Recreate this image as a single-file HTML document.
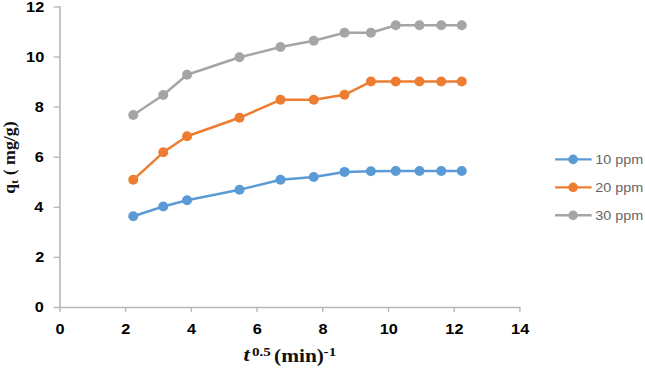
<!DOCTYPE html>
<html><head><meta charset="utf-8"><title>chart</title>
<style>
html,body{margin:0;padding:0;background:#fff;}
body{width:645px;height:368px;overflow:hidden;}
svg{display:block}
text{font-family:"Liberation Sans",sans-serif;}
.tk{font-weight:bold;font-size:14.5px;fill:#000;}
.lg{font-size:13px;fill:#666;}
.ser{font-family:"Liberation Serif",serif;font-weight:bold;fill:#111;}
</style></head><body>
<svg width="645" height="368" viewBox="0 0 645 368">
<rect width="645" height="368" fill="#fff"/>
<g stroke="#bfbfbf" fill="none">
<path d="M60 6.2V308.1" stroke-width="1.8"/>
<path d="M53.7 307.45H520.6" stroke-width="1.35" stroke="#b8b8b8"/>
<path d="M53.7 6.95H60" stroke-width="1.4" stroke="#b8b8b8"/>
<path d="M53.7 57.03H60" stroke-width="1.4" stroke="#b8b8b8"/>
<path d="M53.7 107.11H60" stroke-width="1.4" stroke="#b8b8b8"/>
<path d="M53.7 157.19H60" stroke-width="1.4" stroke="#b8b8b8"/>
<path d="M53.7 207.27H60" stroke-width="1.4" stroke="#b8b8b8"/>
<path d="M53.7 257.35H60" stroke-width="1.4" stroke="#b8b8b8"/>
<path d="M59.90 307.4V311.9" stroke-width="1.4" stroke="#b8b8b8"/>
<path d="M125.62 307.4V311.9" stroke-width="1.4" stroke="#b8b8b8"/>
<path d="M191.34 307.4V311.9" stroke-width="1.4" stroke="#b8b8b8"/>
<path d="M257.06 307.4V311.9" stroke-width="1.4" stroke="#b8b8b8"/>
<path d="M322.78 307.4V311.9" stroke-width="1.4" stroke="#b8b8b8"/>
<path d="M388.50 307.4V311.9" stroke-width="1.4" stroke="#b8b8b8"/>
<path d="M454.22 307.4V311.9" stroke-width="1.4" stroke="#b8b8b8"/>
<path d="M519.94 307.4V311.9" stroke-width="1.4" stroke="#b8b8b8"/>
</g>
<text class="tk" text-anchor="end" transform="translate(44.20 11.80) scale(1.125 1)">12</text>
<text class="tk" text-anchor="end" transform="translate(44.20 61.88) scale(1.125 1)">10</text>
<text class="tk" text-anchor="end" transform="translate(43.90 111.96) scale(1.125 1)">8</text>
<text class="tk" text-anchor="end" transform="translate(43.90 162.04) scale(1.125 1)">6</text>
<text class="tk" text-anchor="end" transform="translate(43.20 212.12) scale(1.125 1)">4</text>
<text class="tk" text-anchor="end" transform="translate(44.20 262.20) scale(1.125 1)">2</text>
<text class="tk" text-anchor="end" transform="translate(43.90 312.28) scale(1.125 1)">0</text>
<text class="tk" text-anchor="middle" transform="translate(60.10 333.6) scale(1.125 1)">0</text>
<text class="tk" text-anchor="middle" transform="translate(125.82 333.6) scale(1.125 1)">2</text>
<text class="tk" text-anchor="middle" transform="translate(191.54 333.6) scale(1.125 1)">4</text>
<text class="tk" text-anchor="middle" transform="translate(257.26 333.6) scale(1.125 1)">6</text>
<text class="tk" text-anchor="middle" transform="translate(322.98 333.6) scale(1.125 1)">8</text>
<text class="tk" text-anchor="middle" transform="translate(388.70 333.6) scale(1.125 1)">10</text>
<text class="tk" text-anchor="middle" transform="translate(454.42 333.6) scale(1.125 1)">12</text>
<text class="tk" text-anchor="middle" transform="translate(520.14 333.6) scale(1.125 1)">14</text>
<polyline points="133.25,216.20 163.25,206.55 187.1,200.30 239.5,189.80 280.5,179.80 313.75,177.05 344.5,171.90 370.9,171.20 395.75,171.05 419.5,171.05 441.25,171.05 461.75,171.05" fill="none" stroke="#5b9bd5" stroke-width="2.5" stroke-linejoin="round" stroke-linecap="round"/>
<circle cx="133.25" cy="216.20" r="5.0" fill="#5b9bd5"/>
<circle cx="163.25" cy="206.55" r="5.0" fill="#5b9bd5"/>
<circle cx="187.1" cy="200.30" r="5.0" fill="#5b9bd5"/>
<circle cx="239.5" cy="189.80" r="5.0" fill="#5b9bd5"/>
<circle cx="280.5" cy="179.80" r="5.0" fill="#5b9bd5"/>
<circle cx="313.75" cy="177.05" r="5.0" fill="#5b9bd5"/>
<circle cx="344.5" cy="171.90" r="5.0" fill="#5b9bd5"/>
<circle cx="370.9" cy="171.20" r="5.0" fill="#5b9bd5"/>
<circle cx="395.75" cy="171.05" r="5.0" fill="#5b9bd5"/>
<circle cx="419.5" cy="171.05" r="5.0" fill="#5b9bd5"/>
<circle cx="441.25" cy="171.05" r="5.0" fill="#5b9bd5"/>
<circle cx="461.75" cy="171.05" r="5.0" fill="#5b9bd5"/>
<polyline points="133.25,179.80 163.25,152.30 187.1,136.30 239.5,117.80 280.5,99.80 313.75,99.80 344.5,94.80 370.9,81.55 395.75,81.55 419.5,81.55 441.25,81.55 461.75,81.55" fill="none" stroke="#ed7d31" stroke-width="2.5" stroke-linejoin="round" stroke-linecap="round"/>
<circle cx="133.25" cy="179.80" r="5.0" fill="#ed7d31"/>
<circle cx="163.25" cy="152.30" r="5.0" fill="#ed7d31"/>
<circle cx="187.1" cy="136.30" r="5.0" fill="#ed7d31"/>
<circle cx="239.5" cy="117.80" r="5.0" fill="#ed7d31"/>
<circle cx="280.5" cy="99.80" r="5.0" fill="#ed7d31"/>
<circle cx="313.75" cy="99.80" r="5.0" fill="#ed7d31"/>
<circle cx="344.5" cy="94.80" r="5.0" fill="#ed7d31"/>
<circle cx="370.9" cy="81.55" r="5.0" fill="#ed7d31"/>
<circle cx="395.75" cy="81.55" r="5.0" fill="#ed7d31"/>
<circle cx="419.5" cy="81.55" r="5.0" fill="#ed7d31"/>
<circle cx="441.25" cy="81.55" r="5.0" fill="#ed7d31"/>
<circle cx="461.75" cy="81.55" r="5.0" fill="#ed7d31"/>
<polyline points="133.25,115.00 163.25,95.05 187.1,74.70 239.5,57.30 280.5,47.05 313.75,40.80 344.5,32.80 370.9,32.80 395.75,25.30 419.5,25.30 441.25,25.30 461.75,25.30" fill="none" stroke="#a5a5a5" stroke-width="2.5" stroke-linejoin="round" stroke-linecap="round"/>
<circle cx="133.25" cy="115.00" r="5.0" fill="#a5a5a5"/>
<circle cx="163.25" cy="95.05" r="5.0" fill="#a5a5a5"/>
<circle cx="187.1" cy="74.70" r="5.0" fill="#a5a5a5"/>
<circle cx="239.5" cy="57.30" r="5.0" fill="#a5a5a5"/>
<circle cx="280.5" cy="47.05" r="5.0" fill="#a5a5a5"/>
<circle cx="313.75" cy="40.80" r="5.0" fill="#a5a5a5"/>
<circle cx="344.5" cy="32.80" r="5.0" fill="#a5a5a5"/>
<circle cx="370.9" cy="32.80" r="5.0" fill="#a5a5a5"/>
<circle cx="395.75" cy="25.30" r="5.0" fill="#a5a5a5"/>
<circle cx="419.5" cy="25.30" r="5.0" fill="#a5a5a5"/>
<circle cx="441.25" cy="25.30" r="5.0" fill="#a5a5a5"/>
<circle cx="461.75" cy="25.30" r="5.0" fill="#a5a5a5"/>
<path d="M555.1 159.4H591.6" stroke="#5b9bd5" stroke-width="2.4"/>
<circle cx="573.1" cy="159.4" r="4.8" fill="#5b9bd5"/>
<text class="lg" transform="translate(595.2 164.20000000000002) scale(1.11 1)">10 ppm</text>
<path d="M555.1 187.4H591.6" stroke="#ed7d31" stroke-width="2.4"/>
<circle cx="573.1" cy="187.4" r="4.8" fill="#ed7d31"/>
<text class="lg" transform="translate(595.2 192.20000000000002) scale(1.11 1)">20 ppm</text>
<path d="M555.1 215.3H591.6" stroke="#a5a5a5" stroke-width="2.4"/>
<circle cx="573.1" cy="215.3" r="4.8" fill="#a5a5a5"/>
<text class="lg" transform="translate(595.2 220.10000000000002) scale(1.11 1)">30 ppm</text>
<text class="ser" font-size="16" transform="translate(15.2 193.8) rotate(-90) scale(1.115 1)">q<tspan font-size="11" dy="3">t</tspan><tspan dy="-3"> ( mg/g)</tspan></text>
<text class="ser" font-size="18.5" font-style="italic" transform="translate(243.6 361.2) scale(1.2 1)">t</text>
<text class="ser" font-size="12.6" transform="translate(252 356) scale(1.2 1)">0.5</text>
<text class="ser" font-size="18" transform="translate(274 361.6) scale(1.19 1)">(min)</text>
<text class="ser" font-size="12.6" transform="translate(323.6 356) scale(1.2 1)">-1</text>
</svg></body></html>
